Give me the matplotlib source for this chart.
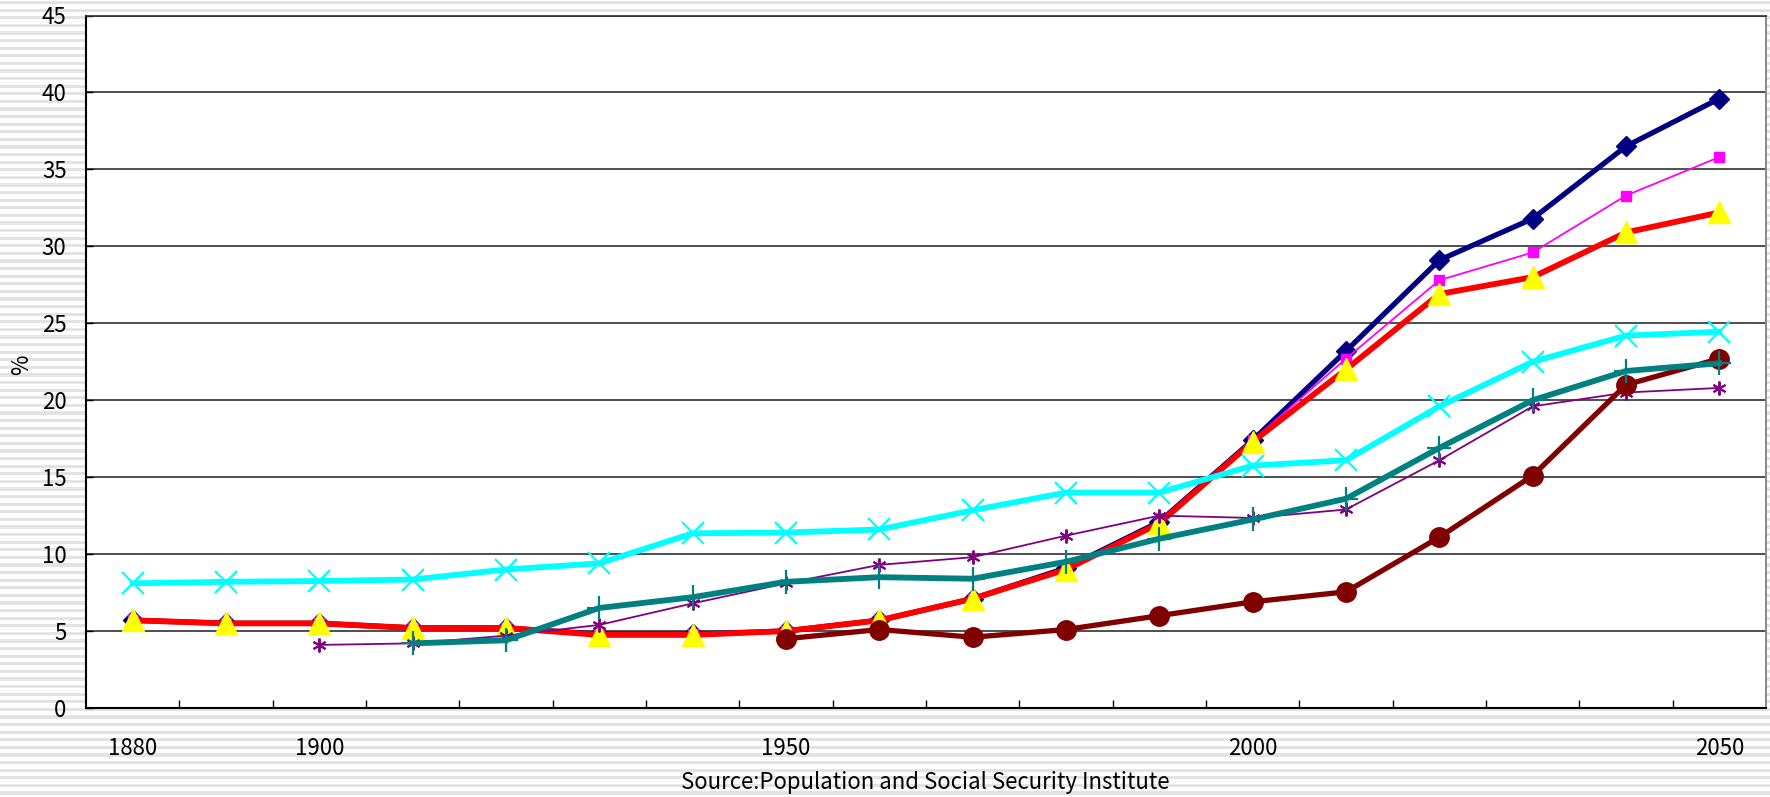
import numpy as np
import matplotlib
matplotlib.use("Agg")
import matplotlib.pyplot as plt

plt.rcParams['font.family'] = ['Noto Sans CJK JP', 'DejaVu Sans']

nan = np.nan
years = [1880, 1890, 1900, 1910, 1920, 1930, 1940, 1950, 1960, 1970,
         1980, 1990, 2000, 2010, 2020, 2030, 2040, 2050]
tick_years = [1880, 1900, 1950, 2000, 2050]

s_navy = [5.7, 5.5, 5.5, 5.2, 5.2, 4.8, 4.8, 5.0, 5.7, 7.1,
          9.1, 12.1, 17.4, 23.2, 29.1, 31.8, 36.5, 39.6]
s_magenta = [5.7, 5.5, 5.5, 5.2, 5.2, 4.8, 4.8, 5.0, 5.7, 7.1,
             9.1, 12.1, 17.4, 22.7, 27.8, 29.6, 33.3, 35.8]
s_red = [5.7, 5.5, 5.5, 5.2, 5.2, 4.75, 4.75, 5.0, 5.7, 7.1,
         9.0, 12.0, 17.3, 22.0, 26.9, 28.0, 30.9, 32.2]
s_cyan = [8.1, 8.2, 8.25, 8.35, 9.0, 9.4, 11.35, 11.4, 11.6, 12.85,
          14.0, 14.0, 15.75, 16.1, 19.6, 22.5, 24.2, 24.45]
s_purple = [nan, nan, 4.1, 4.2, 4.7, 5.4, 6.8, 8.1, 9.3, 9.8,
            11.2, 12.5, 12.35, 12.9, 16.1, 19.6, 20.5, 20.8]
s_maroon = [nan, nan, nan, nan, nan, nan, nan, 4.5, 5.1, 4.6,
            5.1, 6.0, 6.9, 7.55, 11.1, 15.1, 21.0, 22.7]
s_teal = [nan, nan, nan, 4.2, 4.4, 6.5, 7.2, 8.2, 8.5, 8.4,
          9.5, 11.0, 12.25, 13.6, 16.9, 20.0, 21.9, 22.4]

source_text = "Source:Population and Social Security Institute"

W, H = 1770, 797
fig = plt.figure(figsize=(W / 100, H / 100), dpi=100)
fig.patch.set_facecolor('white')

# striped background
bg = fig.add_axes([0, 0, 1, 1], zorder=-10)
bg.set_xlim(0, 1)
bg.set_ylim(H, 0)
bg.axis('off')
y = 1.0
while y < H:
    bg.axhspan(y, y + 3.2, color='#e3e3e3', lw=0)
    y += 7.6

left, right = 86 / W, 1766 / W
bottom, top = 1 - 708 / H, 1 - 15.5 / H
ax = fig.add_axes([left, bottom, right - left, top - bottom])
ax.set_facecolor('white')

x = np.arange(len(years))

series = [
    (s_navy, '#000080', 3.8, 'D', 10, '#000080', 1),
    (s_magenta, '#FF00FF', 1.3, 's', 7, '#FF00FF', 1),
    (s_red, '#FF0000', 4.2, '^', 16, '#FFFF00', 1),
    (s_cyan, '#00FFFF', 4.2, 'x', 16, '#00FFFF', 1.6),
    (s_purple, '#800080', 1.3, (6, 2, 0), 10, '#800080', 1.4),
    (s_maroon, '#800000', 3.8, 'o', 14, '#800000', 1),
    (s_teal, '#008080', 4.2, '+', 17, '#008080', 1.6),
]
for i, (vals, lc, lw, mk, ms, mc, mew) in enumerate(series):
    ax.plot(x, vals, color=lc, lw=lw, marker=mk, markersize=ms,
            markerfacecolor=mc, markeredgecolor=mc, markeredgewidth=mew,
            solid_joinstyle='round', zorder=3 + i)

ax.set_xlim(-0.5, len(years) - 0.5)
ax.set_ylim(0, 45)
ax.set_yticks(np.arange(0, 46, 5))
ax.yaxis.grid(True, color='#303030', lw=1.2, zorder=1)
ax.set_axisbelow(True)

ax.set_xticks([years.index(t) for t in tick_years])
ax.set_xticklabels([str(t) for t in tick_years])
ax.set_xticks(np.arange(0.5, len(years) - 1, 1.0), minor=True)
ax.tick_params(axis='x', which='major', length=0, pad=21, labelsize=16)
ax.tick_params(axis='x', which='minor', direction='in', length=6, width=1, color='black')
ax.tick_params(axis='y', which='major', direction='in', length=5, width=1,
               pad=14, labelsize=16)

for side in ['left', 'bottom']:
    ax.spines[side].set_color('black')
    ax.spines[side].set_linewidth(1.5)
ax.spines['right'].set_color('#808080')
ax.spines['right'].set_linewidth(1.3)
ax.spines['top'].set_color('#303030')
ax.spines['top'].set_linewidth(1.2)

fig.text(22 / W, 1 - 365 / H, '%', rotation=90, ha='center', va='center', fontsize=16)
fig.text(925 / W, 1 - 783 / H, source_text, ha='center', va='center', fontsize=16)

fig.savefig('out.png', dpi=100, facecolor=fig.get_facecolor())
